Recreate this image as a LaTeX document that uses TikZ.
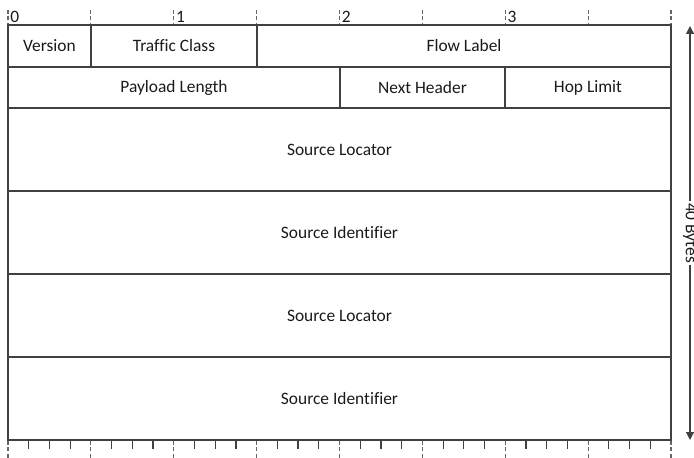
\documentclass[tikz,border=0pt]{standalone}
\usepackage{fontspec}
\setmainfont{Carlito}[Ligatures=CommonOff]
\usepackage{tikz}
\usetikzlibrary{arrows.meta}
\definecolor{ln}{HTML}{404040}
\definecolor{tx}{HTML}{1A1A1A}

\tikzset{
  field/.style={draw=ln,line width=0.75pt},
  fname/.style={inner sep=0pt,text=tx,font=\fontsize{8.7}{10}\selectfont},
  bytelbl/.style={anchor=west,inner sep=1pt,text=tx,font=\fontsize{8.7}{10}\selectfont},
  tick/.style={ln,line width=0.6pt},
  nibtick/.style={ln!80,line width=0.6pt,dash pattern=on 2pt off 1.2pt}
}

\begin{document}
\begin{tikzpicture}[x=0.5pt,y=-0.5pt]
  \useasboundingbox (0,0) rectangle (694,458);
  % one nibble is 82.875 wide, one bit 20.72
  % top ruler: nibble marks and byte numbers
  \foreach \k in {0,...,8} {
    \draw[nibtick] ({8+82.875*\k},10) -- ({8+82.875*\k},23);
  }
  \foreach \k in {0,...,3} {
    \node[bytelbl] (b\k) at ({8+165.75*\k},16.5) {\k};
  }
  % first two rows of the header
  \draw[field] (8,25) rectangle (91,67) node[midway,fname] (ver) {Version};
  \draw[field] (91,25) rectangle (257,67) node[midway,fname] (tc) {Traffic Class};
  \draw[field] (257,25) rectangle (671,67) node[midway,fname] (fl) {Flow Label};
  \draw[field] (8,67) rectangle (340,108) node[midway,fname] (plen) {Payload Length};
  \draw[field] (340,67) rectangle (505,108) node[midway,fname] (nh) {Next Header};
  \draw[field] (505,67) rectangle (671,108) node[midway,fname] (hl) {Hop Limit};
  % addresses
  \draw[field] (8,108) rectangle (671,191) node[midway,fname] (sloc1) {Source Locator};
  \draw[field] (8,191) rectangle (671,274) node[midway,fname] (sid1) {Source Identifier};
  \draw[field] (8,274) rectangle (671,357) node[midway,fname] (sloc2) {Source Locator};
  \draw[field] (8,357) rectangle (671,440) node[midway,fname] (sid2) {Source Identifier};
  % bottom ruler: one mark per bit
  \foreach \i in {0,...,32} {
    \pgfmathtruncatemacro{\r}{mod(\i,4)}
    \ifnum\r=0
      \draw[nibtick] ({8+20.72*\i},441) -- ({8+20.72*\i},458);
    \else
      \draw[tick] ({8+20.72*\i},441) -- ({8+20.72*\i},449);
    \fi
  }
  % total length
  \coordinate (top) at (690,26);
  \coordinate (bot) at (690,440);
  \draw[ln,line width=0.6pt,{Triangle[length=4pt,width=4pt]}-{Triangle[length=4pt,width=4pt]}]
    (top) -- (bot) node[midway,fill=white,rotate=-90,inner sep=1pt,text=tx,font=\fontsize{8.7}{10}\selectfont] (len) {40 Bytes};
\end{tikzpicture}
\end{document}
